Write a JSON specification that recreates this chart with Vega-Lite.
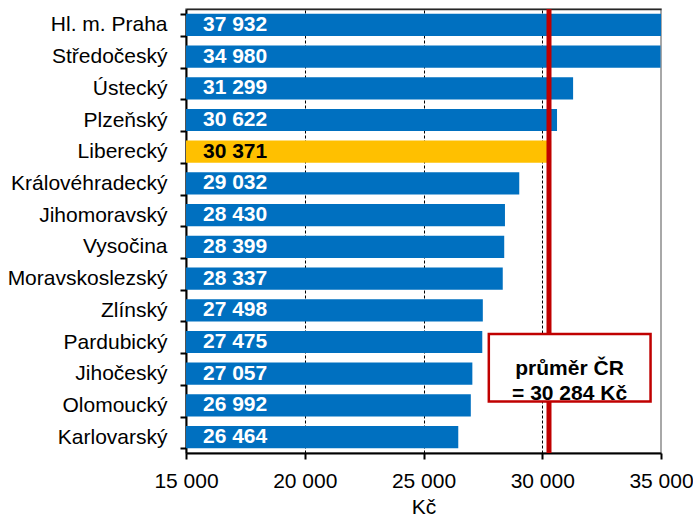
{
  "$schema": "https://vega.github.io/schema/vega-lite/v6.json",
  "width": 475,
  "height": 444,
  "autosize": {"type": "none"},
  "padding": {"left": 186, "top": 9, "right": 32, "bottom": 66},
  "config": {
    "font": "Liberation Sans",
    "locale": {"number": {"decimal": ",", "thousands": " ", "grouping": [3], "currency": ["", " Kč"]}},
    "view": {"stroke": "#8c8c8c", "strokeWidth": 1.5},
    "axis": {
      "labelFont": "Liberation Sans",
      "titleFont": "Liberation Sans",
      "labelColor": "black",
      "titleColor": "black",
      "labelFontSize": 21,
      "titleFontSize": 21,
      "titleFontWeight": "normal",
      "domainColor": "black",
      "tickColor": "black",
      "domainWidth": 2,
      "tickWidth": 2,
      "tickSize": 6
    }
  },
  "datasets": {
    "kraje": [
      {"kraj": "Hl. m. Praha\u00a0", "mzda": 37932},
      {"kraj": "Středočeský", "mzda": 34980},
      {"kraj": "Ústecký", "mzda": 31299},
      {"kraj": "Plzeňský", "mzda": 30622},
      {"kraj": "Liberecký", "mzda": 30371},
      {"kraj": "Královéhradecký", "mzda": 29032},
      {"kraj": "Jihomoravský", "mzda": 28430},
      {"kraj": "Vysočina", "mzda": 28399},
      {"kraj": "Moravskoslezský", "mzda": 28337},
      {"kraj": "Zlínský", "mzda": 27498},
      {"kraj": "Pardubický", "mzda": 27475},
      {"kraj": "Jihočeský", "mzda": 27057},
      {"kraj": "Olomoucký", "mzda": 26992},
      {"kraj": "Karlovarský", "mzda": 26464}
    ],
    "prumer": [{"nazev": "průměr ČR", "mzda": 30284}]
  },
  "layer": [
    {
      "data": {"name": "kraje"},
      "layer": [
        {
          "mark": {"type": "bar", "clip": true},
          "encoding": {
            "y": {
              "field": "kraj",
              "type": "nominal",
              "sort": null,
              "scale": {"paddingInner": 0.3, "paddingOuter": 0.15},
              "axis": {"title": null, "tickBand": "extent", "labelPadding": 13, "grid": false}
            },
            "x": {
              "field": "mzda",
              "type": "quantitative",
              "scale": {"domain": [15000, 35000], "nice": false, "zero": false},
              "axis": {
                "orient": "bottom",
                "values": [15000, 20000, 25000, 30000, 35000],
                "format": ",d",
                "title": "Kč",
                "grid": true,
                "gridColor": "black",
                "gridDash": [3, 2],
                "gridWidth": 1,
                "gridOpacity": {"condition": {"test": "datum.value >= 35000 || datum.value <= 15000", "value": 0}, "value": 1},
                "labelPadding": 11,
                "titlePadding": 5,
                "labelFlush": false,
                "labelOverlap": false
              }
            },
            "x2": {"datum": 15000},
            "color": {"condition": {"test": "datum.kraj === 'Liberecký'", "value": "#FFC000"}, "value": "#0070C0"}
          }
        },
        {
          "mark": {"type": "text", "align": "left", "baseline": "middle", "dx": 17, "fontSize": 21, "fontWeight": "bold"},
          "encoding": {
            "y": {"field": "kraj", "type": "nominal", "sort": null},
            "x": {"datum": 15000, "type": "quantitative"},
            "text": {"field": "mzda", "format": ",d"},
            "color": {"condition": {"test": "datum.kraj === 'Liberecký'", "value": "black"}, "value": "white"}
          }
        }
      ]
    },
    {
      "data": {"name": "prumer"},
      "layer": [
        {
          "mark": {"type": "rule", "color": "#C00000", "strokeWidth": 5},
          "encoding": {
            "x": {
              "field": "mzda",
              "type": "quantitative",
              "scale": {"domain": [15000, 35000], "nice": false, "zero": false},
              "axis": {"orient": "top", "labels": false, "ticks": false, "grid": false, "title": null, "domainColor": "#262626", "domainWidth": 1.5}
            }
          }
        },
        {
          "mark": {"type": "rect", "fill": "white", "stroke": "#C00000", "strokeWidth": 2.5},
          "encoding": {
            "x": {"datum": 27750, "type": "quantitative"},
            "x2": {"datum": 34560},
            "y": {"datum": 10.25, "type": "quantitative", "scale": {"domain": [0, 14], "reverse": true, "nice": false, "zero": false}, "axis": null},
            "y2": {"datum": 12.38}
          }
        },
        {
          "mark": {"type": "text", "align": "center", "baseline": "middle", "fontSize": 21, "fontWeight": "bold", "color": "black", "lineHeight": 25},
          "encoding": {
            "x": {"datum": 31150, "type": "quantitative"},
            "y": {"datum": 11.36, "type": "quantitative"},
            "text": {"value": ["průměr ČR", "= 30 284 Kč"]}
          }
        }
      ]
    }
  ],
  "resolve": {"scale": {"y": "independent"}}
}
